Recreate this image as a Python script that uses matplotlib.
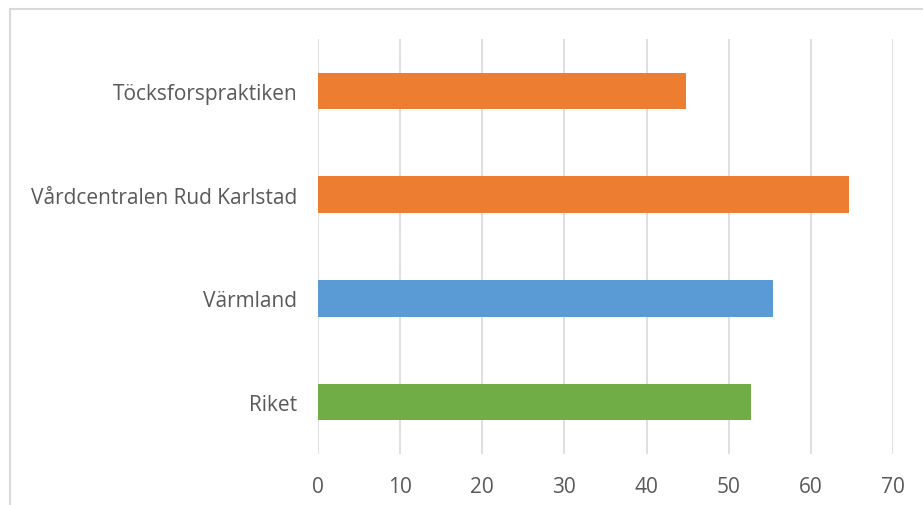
import matplotlib
matplotlib.use('Agg')
from matplotlib import pyplot as plt
from matplotlib.patches import Rectangle

plt.rcParams['font.family'] = ['Open Sans', 'DejaVu Sans']

# data, top to bottom as in the chart
labels = ['Töcksforspraktiken', 'Vårdcentralen Rud Karlstad', 'Värmland', 'Riket']
values = [44.8, 64.6, 55.4, 52.7]
colors = ['#ED7D31', '#ED7D31', '#5B9BD5', '#70AD47']
ticks = [0, 10, 20, 30, 40, 50, 60, 70]

fig = plt.figure(figsize=(9.23, 5.06), dpi=100)
ax = fig.add_axes([318/923, 51/506, 575/923, 415/506])

pos = list(range(len(labels)))[::-1]
ax.barh(pos, values, height=0.35, color=colors, zorder=3)

ax.set_xlim(0, 70)
ax.set_ylim(-0.5, 3.5)
ax.set_xticks(ticks)
ax.set_yticks(pos)
ax.set_yticklabels(labels)
ax.grid(axis='x', color='#d9d9d9', linewidth=1.2, zorder=0)
for s in ax.spines.values():
    s.set_visible(False)
ax.tick_params(length=0, labelsize=15, labelcolor='#595959')
ax.tick_params(axis='x', pad=16)
ax.tick_params(axis='y', pad=15)

# chart border
fig.patches.append(Rectangle((10/923, -0.1), 1.2, 0.1 + 1 - 10/506,
                             transform=fig.transFigure, fill=False,
                             edgecolor='#d9d9d9', linewidth=1.5))

plt.savefig('out.png', dpi=100)
